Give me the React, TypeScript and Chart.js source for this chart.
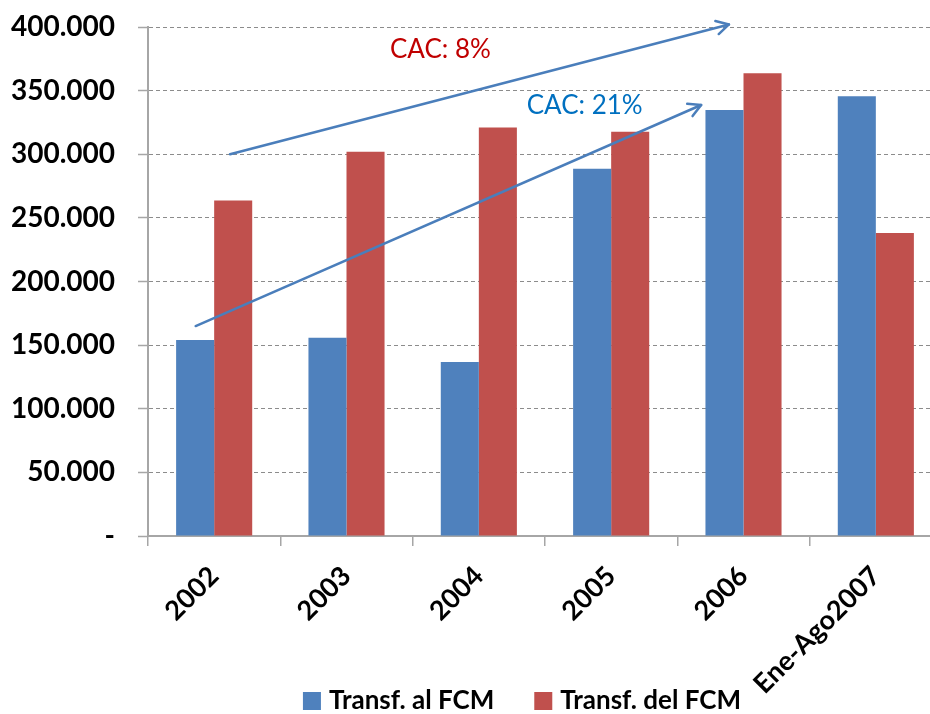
import React, { useEffect, useRef } from 'react';
import { Chart, registerables } from 'chart.js';

Chart.register(...registerables);

// ---- data ----
const categories = ['2002', '2003', '2004', '2005', '2006', 'Ene-Ago2007'];
const seriesLabels = ['Transf. al FCM', 'Transf. del FCM'];
const transfAlFCM = [154000, 155800, 136800, 288600, 334700, 345500];
const transfDelFCM = [263700, 302000, 321000, 317600, 363700, 238200];
const yMin = 0;
const yMax = 400000;
const yStep = 50000;

// annotations (category index, value)
const cacLabels = ['CAC: 8%', 'CAC: 21%'];
const cacLabelColors = ['#C00000', '#0070C0'];
const cacLabelAt = [
  [1.71, 382000],
  [2.8, 338000],
];
const cacArrowFrom = [
  [0.12, 300000],
  [-0.14, 165000],
];
const cacArrowTo = [
  [3.89, 402000],
  [3.68, 338700],
];

const FONT = 'Lato, "Open Sans", sans-serif';
const BLUE = '#4F81BD';
const RED = '#C0504D';
const ARROW = '#4A7EBB';

function fmt(v: number): string {
  if (v === 0) return '-';
  return String(Math.round(v)).replace(/\B(?=(\d{3})+(?!\d))/g, '.');
}

const overlayPlugin = {
  id: 'overlay',
  afterDatasetsDraw(chart: any) {
    const { ctx, scales } = chart;
    const x = scales.x;
    const y = scales.y;
    ctx.save();
    ctx.strokeStyle = ARROW;
    ctx.lineWidth = 2.5;
    ctx.lineCap = 'round';
    ctx.lineJoin = 'round';
    for (let i = 0; i < cacArrowFrom.length; i++) {
      const x1 = x.getPixelForValue(cacArrowFrom[i][0]);
      const y1 = y.getPixelForValue(cacArrowFrom[i][1]);
      const x2 = x.getPixelForValue(cacArrowTo[i][0]);
      const y2 = y.getPixelForValue(cacArrowTo[i][1]);
      ctx.beginPath();
      ctx.moveTo(x1, y1);
      ctx.lineTo(x2, y2);
      ctx.stroke();
      const ang = Math.atan2(y2 - y1, x2 - x1);
      const len = 14;
      const spread = 0.5;
      ctx.beginPath();
      ctx.moveTo(x2 - len * Math.cos(ang - spread), y2 - len * Math.sin(ang - spread));
      ctx.lineTo(x2, y2);
      ctx.lineTo(x2 - len * Math.cos(ang + spread), y2 - len * Math.sin(ang + spread));
      ctx.stroke();
    }
    ctx.font = `26px ${FONT}`;
    ctx.textAlign = 'center';
    ctx.textBaseline = 'middle';
    for (let i = 0; i < cacLabels.length; i++) {
      ctx.fillStyle = cacLabelColors[i];
      ctx.fillText(
        cacLabels[i],
        x.getPixelForValue(cacLabelAt[i][0]),
        y.getPixelForValue(cacLabelAt[i][1])
      );
    }
    ctx.restore();
  },
  afterDraw(chart: any) {
    const { ctx } = chart;
    ctx.save();
    ctx.font = `bold 26px ${FONT}`;
    ctx.textBaseline = 'middle';
    ctx.textAlign = 'left';
    const box = 18;
    const gap = 8;
    const itemGap = 40;
    const ds = chart.data.datasets;
    const widths = ds.map((d: any) => ctx.measureText(d.label).width);
    let total = 0;
    widths.forEach((w: number, i: number) => {
      total += box + gap + w + (i > 0 ? itemGap : 0);
    });
    const centerX = 522;
    const cy = 701;
    let cx = centerX - total / 2;
    ds.forEach((d: any, i: number) => {
      if (i > 0) cx += itemGap;
      ctx.fillStyle = d.backgroundColor;
      ctx.fillRect(cx, cy - box / 2, box, box);
      cx += box + gap;
      ctx.fillStyle = '#000';
      ctx.fillText(d.label, cx, cy);
      cx += widths[i];
    });
    ctx.restore();
  },
};

export default function App() {
  const ref = useRef<HTMLCanvasElement | null>(null);

  useEffect(() => {
    if (!ref.current) return;
    const chart = new Chart(ref.current, {
      type: 'bar',
      data: {
        labels: categories,
        datasets: [
          {
            label: seriesLabels[0],
            data: transfAlFCM,
            backgroundColor: BLUE,
            borderWidth: 0,
          },
          {
            label: seriesLabels[1],
            data: transfDelFCM,
            backgroundColor: RED,
            borderWidth: 0,
          },
        ],
      },
      options: {
        responsive: false,
        animation: false,
        devicePixelRatio: 1,
        categoryPercentage: 0.575,
        barPercentage: 1.0,
        layout: { padding: { top: 27, left: 0, right: 0, bottom: 0 } },
        plugins: {
          legend: { display: false },
          tooltip: { enabled: false },
        },
        scales: {
          x: {
            grid: {
              offset: true,
              drawOnChartArea: false,
              drawTicks: true,
              tickLength: 10,
              color: '#A6A6A6',
              lineWidth: 1.5,
            },
            border: { display: true, color: '#A6A6A6', width: 2 },
            ticks: {
              color: '#000',
              font: { family: FONT, size: 27, weight: 'bold' },
              minRotation: 45,
              maxRotation: 45,
              autoSkip: false,
              padding: 14,
            },
            afterFit: (scale: any) => {
              scale.height = 178;
            },
          },
          y: {
            min: yMin,
            max: yMax,
            grid: {
              color: '#8C8C8C',
              lineWidth: 1,
              drawTicks: true,
              tickLength: 10,
              tickColor: '#A6A6A6',
              tickWidth: 1.5,
              tickBorderDash: [],
            },
            border: { display: true, color: '#A6A6A6', width: 2, dash: [4, 3] },
            ticks: {
              stepSize: yStep,
              color: '#000',
              font: { family: FONT, size: 28, weight: 'bold' },
              padding: 23,
              callback: (v: any) => fmt(Number(v)),
            },
            afterFit: (scale: any) => {
              scale.width = 148;
              scale.paddingTop = 0;
              scale.paddingBottom = 0;
            },
          },
        },
      },
      plugins: [overlayPlugin],
    } as any);
    return () => chart.destroy();
  }, []);

  return (
    <div
      style={{
        position: 'fixed',
        left: 0,
        top: 0,
        width: 930,
        height: 714,
        overflow: 'hidden',
        background: '#fff',
      }}
    >
      <canvas
        ref={ref}
        width={942}
        height={714}
        style={{ display: 'block', width: 942, height: 714 }}
      />
    </div>
  );
}
